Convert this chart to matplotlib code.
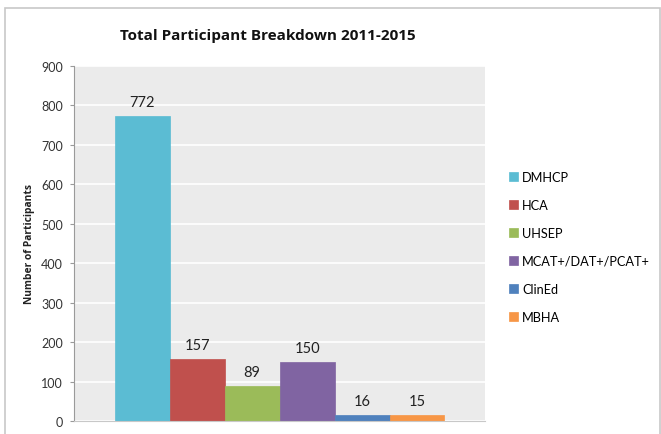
import matplotlib
matplotlib.use('Agg')
import matplotlib.pyplot as plt
from matplotlib.patches import Rectangle

###############################################################################

# participants per program, 2011-2015
programs = ['DMHCP', 'HCA', 'UHSEP', 'MCAT+/DAT+/PCAT+', 'ClinEd', 'MBHA']
participants = [772, 157, 89, 150, 16, 15]
colors = ['#5bbcd3', '#c0504d', '#9bbb59', '#8064a2', '#4f81bd', '#f79646']
y_ticks = [0, 100, 200, 300, 400, 500, 600, 700, 800, 900]

###############################################################################

plt.rcParams['font.family'] = ['Lato', 'DejaVu Sans']
bold_font = ['Open Sans', 'DejaVu Sans']

fig = plt.figure(figsize=(6.61, 4.35), dpi=100)
ax = fig.add_axes([0.112, 0.030, 0.622, 0.816])

# chart border
fig.patches.append(Rectangle((0.008, -0.02), 0.99, 1.0, transform=fig.transFigure,
                             fill=False, edgecolor='#c8c8c8', lw=1.2))

ax.set_facecolor('#ebebeb')
ax.set_axisbelow(True)
ax.grid(axis='y', color='white', lw=1.2)

xs = range(len(programs))
bars = ax.bar(xs, participants, width=1.0, color=colors, label=programs,
              edgecolor=colors, linewidth=0.5)
for x, v in zip(xs, participants):
    ax.text(x, v + 18, str(v), ha='center', va='bottom', fontsize=10.5,
            color='#222222')

ax.set_xlim(-1.24, 6.24)
ax.set_ylim(0, 900)
ax.set_yticks(y_ticks)
ax.set_xticks([])
ax.tick_params(axis='y', labelsize=9, length=3, color='#9a9a9a',
               labelcolor='#333333', pad=5)
for side in ['top', 'right']:
    ax.spines[side].set_visible(False)
ax.spines['left'].set_color('#9a9a9a')
ax.spines['bottom'].set_color('#c8c8c8')

ax.set_ylabel('Number of Participants', fontsize=7.4, fontweight='bold',
              family=bold_font, color='#222222', labelpad=4)
fig.text(0.405, 0.918, 'Total Participant Breakdown 2011-2015', ha='center',
         va='center', fontsize=11, fontweight='bold', family=bold_font,
         color='#111111')

fig.legend(bars, programs, loc='upper left', bbox_to_anchor=(0.763, 0.617),
           frameon=False, fontsize=9.2, handlelength=0.7, handleheight=0.7,
           handletextpad=0.3, labelspacing=1.25, borderaxespad=0)

fig.savefig('out.png', dpi=100)
